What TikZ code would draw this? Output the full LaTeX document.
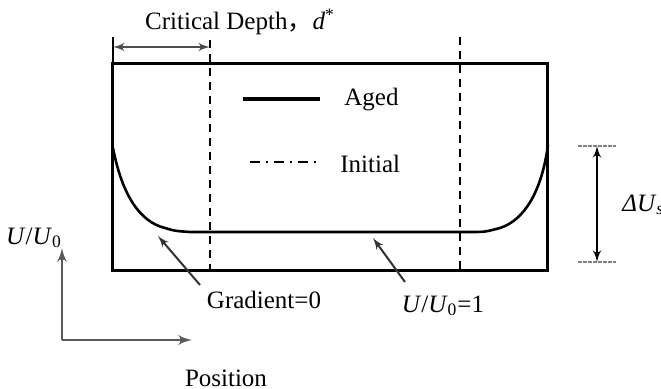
\documentclass[tikz,border=0pt]{standalone}
\usepackage{fontspec}
\setmainfont{Liberation Serif}
\newfontfamily\cjk{Noto Sans CJK SC}
\usetikzlibrary{arrows,positioning,calc}

\begin{document}
\begin{tikzpicture}[
    x=0.5pt, y=-0.5pt,
    wall/.style={draw, line width=1.5pt},
    aged/.style={line width=1.3pt},
    initial/.style={line width=1pt, dash pattern=on 4pt off 3pt},
    arrow/.style={->, line width=1pt, >=latex'},
    dim/.style={<->, line width=1pt, >=latex'},
    lbl/.style={font=\fontsize{12.5}{15}\selectfont, inner sep=1pt}
]
    \useasboundingbox (0,0) rectangle (661,389);

    % specimen box
    \coordinate (tl) at (113,64);
    \coordinate (br) at (548,271);
    \draw[wall] (tl) rectangle (br);

    % critical depth
    \coordinate (dl) at (113,47);
    \coordinate (dr) at (210,47);
    \draw[line width=0.6pt] (113,37) -- (tl);
    \draw[initial] (210,40) -- (210,271);
    \draw[initial] (460,37) -- (460,271);
    \draw[dim, gray!60!black] (dl) -- (dr);
    \node[lbl] (crit) at (240,22) {Critical Depth{\cjk ，}\textit{d}\textsuperscript{*}};

    % legend
    \draw[line width=1.6pt] (243,99) -- (320,99);
    \node[lbl, anchor=west] (aged) at (342,100) {Aged};
    \draw[line width=1pt, dash pattern=on 5pt off 3pt on 1pt off 3pt] (250,162) -- (317,162);
    \node[lbl, anchor=west] (init) at (338,164) {Initial};

    % aged profile
    \draw[aged] (113,148) .. controls (122,195) and (140,222) .. (165,228)
        .. controls (175,231) .. (190,232) -- (470,232)
        .. controls (485,232) .. (500,228)
        .. controls (525,220) and (542,190) .. (548,145);

    % delta U
    \coordinate (ut) at (597,146);
    \coordinate (ub) at (597,262);
    \draw[gray, line width=0.6pt, dash pattern=on 2pt off 0.5pt] (578,146) -- (616,146);
    \draw[gray, line width=0.6pt, dash pattern=on 2pt off 0.5pt] (578,262) -- (616,262);
    \draw[dim] (ut) -- (ub);
    \node[lbl, anchor=west] (du) at (620,205) {\textit{ΔU}\textsubscript{\textit{s}}};

    % axes
    \coordinate (o) at (62,340);
    \coordinate (yend) at (62,248);
    \coordinate (xend) at (192,340);
    \draw[arrow, line width=1.4pt, gray!70!black] (o) -- (yend);
    \draw[arrow, line width=1.4pt, gray!70!black] (o) -- (xend);
    \node[lbl] (ylab) at (34,238) {\textit{U}/\textit{U}\textsubscript{0}};
    \node[lbl] (xlab) at (226,378) {Position};

    % pointers
    \coordinate (g0) at (158,236);
    \coordinate (u1) at (373,238);
    \node[lbl] (grad) at (264,300) {Gradient=0};
    \node[lbl] (ratio) at (443,306) {\textit{U}/\textit{U}\textsubscript{0}=1};
    \draw[arrow, gray!40!black] (200,285) -- (g0);
    \draw[arrow, gray!40!black] (405,282) -- (u1);
\end{tikzpicture}
\end{document}
